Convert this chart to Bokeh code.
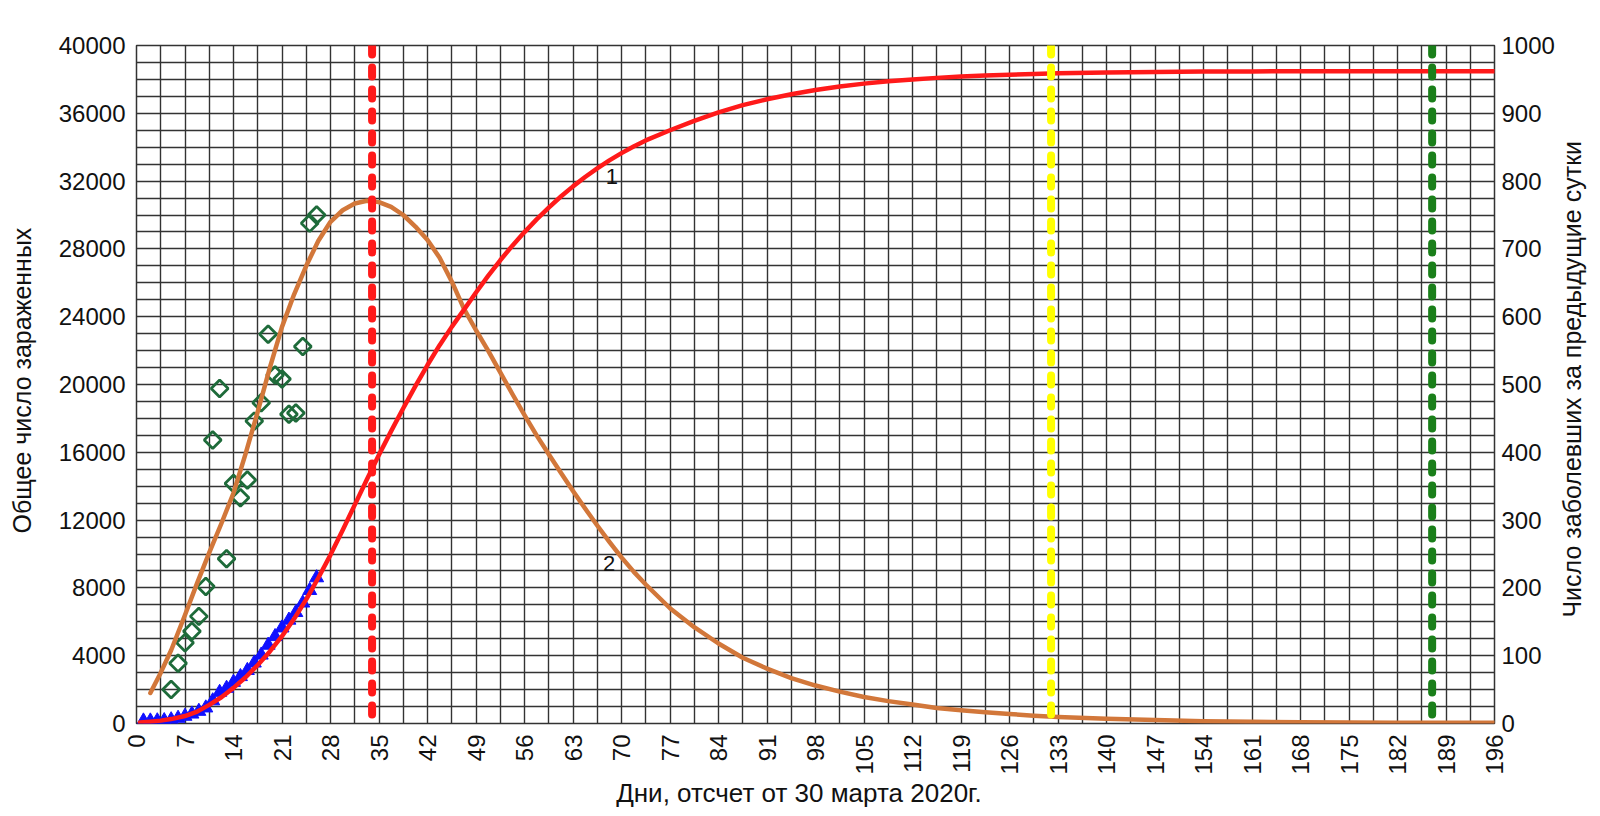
import math
import numpy as np
from bokeh.plotting import figure
from bokeh.layouts import row, column
from bokeh.models import Range1d, LinearAxis, FixedTicker, Span
from bokeh.embed import file_html
from bokeh.resources import INLINE
from bokeh.core.properties import value

FONT = "Liberation Sans"

# ---------------- data ----------------
x_tick_values = list(range(0, 197, 7))
left_tick_values = list(range(0, 40001, 4000))
right_tick_values = list(range(0, 1001, 100))

x_title = "Дни, отсчет от  30 марта 2020г."
left_title = "Общее число зараженных"
right_title = "Число заболевших за предыдущие сутки"

# curve 1: total infected (left axis)
curve1_days = [0.5, 2, 3.5, 5, 7, 8.75, 10.5, 12.25, 14, 15.75, 17.5, 19.25, 21, 22.75, 24.5,
               26.25, 28, 29.75, 31.5, 33.25, 35, 36.75, 38.5, 40.25, 42, 43.75, 45.5, 47.25,
               49, 50.75, 52.5, 54.25, 56, 57.75, 59.5, 61.25, 63, 64.75, 66.5, 68.25, 70,
               71.75, 73.5, 77, 80.5, 84, 87.5, 91, 94.5, 98, 101.5, 105, 108.5, 112, 115.5,
               119, 122.5, 126, 129.5, 133, 140, 147, 154, 161, 168, 175, 182, 189, 196]
curve1_vals = [60, 110, 170, 260, 440, 700, 1100, 1550, 2100, 2730, 3450, 4250, 5150, 6180, 7320,
               8600, 9950, 11400, 12900, 14400, 15850, 17250, 18600, 19900, 21150, 22320, 23400, 24400,
               25430, 26410, 27330, 28190, 28990, 29740, 30440, 31090, 31690, 32240, 32750, 33220, 33650,
               34040, 34400, 35000, 35550, 36050, 36480, 36830, 37120, 37370, 37580, 37750, 37890, 38000, 38090,
               38170, 38230, 38280, 38320, 38360, 38410, 38440, 38460, 38470, 38480, 38480, 38480, 38480, 38480]

# curve 2: new cases per day (right axis)
curve2_days = [2, 3.5, 5, 7, 8.75, 10.5, 12.25, 14, 15.75, 17.5, 19.25, 21, 22.75, 24.5, 26.25,
               28, 29.75, 31.5, 33.25, 35, 36.75, 38.5, 40.25, 42, 43.75, 45.5, 47.25, 49, 50.75,
               52.5, 54.25, 56, 57.75, 59.5, 61.25, 63, 64.75, 66.5, 68.25, 70, 71.75, 73.5, 77,
               80.5, 84, 87.5, 91, 94.5, 98, 101.5, 105, 108.5, 112, 115.5, 119, 122.5, 126, 129.5,
               133, 140, 147, 154, 161, 168, 175, 182, 189, 196]
curve2_vals = [45, 75, 108, 160, 207, 252, 295, 340, 398, 460, 525, 585, 633, 675, 712,
               740, 757, 767, 771, 769, 762, 750, 733, 713, 687, 652, 612, 580, 550,
               518, 486, 455, 425, 397, 370, 343, 317, 292, 268, 245, 224, 205, 170,
               142, 118, 97, 81, 67, 56, 47, 39, 33, 28, 23, 19.5, 16.5, 14, 11.5,
               9.5, 7, 5, 3.5, 2.5, 2, 1.5, 1, 1, 1]

# observed cumulative cases (left axis, blue triangles)
obs_total_days = list(range(1, 27))
obs_total_vals = [150, 150, 160, 170, 220, 310, 430, 560, 720, 920, 1340, 1840, 2080,
                  2430, 2770, 3130, 3570, 4040, 4620, 5130, 5640, 6100, 6550, 7110, 7850, 8600]

# observed new cases per day (right axis, green diamonds)
obs_daily_days = list(range(5, 27))
obs_daily_vals = [50, 89, 119, 136, 158, 202, 418, 494, 243, 354, 333, 359, 446, 473,
                  574, 514, 508, 456, 458, 556, 738, 750]

# marked days (vertical dashed lines)
marker_days = [34, 132, 187]
marker_colors = ["#ff1a1a", "#ffff00", "#1a7f1a"]

# curve labels
label_texts = ["1", "2"]
label_days = [68.6, 68.2]
label_vals = [32300, 9440]

# ---------------- layout sizes ----------------
LEFT_W, RIGHT_W, BOTTOM_H = 50, 43, 39
MAIN_W = 1600 - LEFT_W - RIGHT_W
MAIN_H = 816 - BOTTOM_H
FRAME_L, FRAME_R, FRAME_T, FRAME_B = 136, 1496, 45, 723
TEXT_SHIFT = 10  # renderer places the alphabetic baseline this far "below" the anchor


def strip(width, height):
    f = figure(width=width, height=height, x_range=Range1d(0, width), y_range=Range1d(0, height),
               x_axis_type=None, y_axis_type=None, output_backend="svg", toolbar_location=None,
               min_border=0, background_fill_color="white", border_fill_color="white")
    f.outline_line_color = None
    f.xgrid.visible = False
    f.ygrid.visible = False
    return f


# ---------------- main figure ----------------
p = figure(width=MAIN_W, height=MAIN_H, x_range=Range1d(0, 196), y_range=Range1d(0, 40000),
           output_backend="svg", toolbar_location=None,
           min_border_left=FRAME_L - LEFT_W, min_border_right=(LEFT_W + MAIN_W) - FRAME_R,
           min_border_top=FRAME_T, min_border_bottom=MAIN_H - FRAME_B,
           background_fill_color="white", border_fill_color="white")
p.extra_y_ranges = {"right": Range1d(0, 1000)}
p.outline_line_color = "#333333"
p.outline_line_width = 1.5

p.xgrid.ticker = FixedTicker(ticks=list(np.arange(0, 196.01, 3.5)))
p.ygrid.ticker = FixedTicker(ticks=list(range(0, 40001, 1000)))
for g in (p.xgrid, p.ygrid):
    g.grid_line_color = "#333333"
    g.grid_line_width = 1.4
    g.grid_line_alpha = 1.0

xa = p.xaxis[0]
xa.ticker = FixedTicker(ticks=x_tick_values)
xa.major_label_orientation = math.pi / 2

ya = p.yaxis[0]
ya.ticker = FixedTicker(ticks=left_tick_values)

ra = LinearAxis(y_range_name="right", ticker=FixedTicker(ticks=right_tick_values))
p.add_layout(ra, "right")

for ax in (xa, ya, ra):
    ax.axis_line_color = None
    ax.major_tick_line_color = None
    ax.minor_tick_line_color = None
    ax.major_tick_out = 0
    ax.major_tick_in = 0
    ax.minor_tick_out = 0
    ax.minor_tick_in = 0
    ax.major_label_text_font = FONT
    ax.major_label_text_font_size = "24px"
    ax.major_label_text_color = "#111111"

ya.major_label_standoff = 11
ra.major_label_standoff = 7
xa.major_label_standoff = 11

# observed data
p.scatter(obs_daily_days, obs_daily_vals, y_range_name="right", marker="square",
          angle=math.pi / 4, size=12, fill_color=None, line_color="#1e6b3a", line_width=2.8)
p.scatter(obs_total_days, obs_total_vals, marker="triangle", size=14,
          fill_color="#1010ff", line_color="#1010ff")

# model curves
p.line(curve2_days, curve2_vals, y_range_name="right", line_color="#d2773a", line_width=4.5,
       line_join="round", line_cap="round")
p.line(curve1_days, curve1_vals, line_color="#ff1a1a", line_width=4.5,
       line_join="round", line_cap="round")

# marked days
for d, c in zip(marker_days, marker_colors):
    p.add_layout(Span(location=d, dimension="height", line_color=c, line_width=8,
                      line_dash="9 13", line_cap="round"))

# curve labels
p.text(x=label_days, y=label_vals, text=label_texts, text_font=value(FONT),
       text_font_size="22px", text_color="#111111", text_align="center",
       text_baseline="middle")

# ---------------- title strips ----------------
left_strip = strip(LEFT_W, MAIN_H)
left_strip.text(x=[31 - TEXT_SHIFT], y=[MAIN_H - 384], text=[left_title], angle=math.pi / 2,
                text_font=value(FONT), text_font_size="25px", text_color="#111111",
                text_align="center", text_baseline="alphabetic")

right_strip = strip(RIGHT_W, MAIN_H)
right_strip.text(x=[1581 - (1600 - RIGHT_W) - TEXT_SHIFT], y=[MAIN_H - 382.5], text=[right_title],
                 angle=math.pi / 2, text_font=value(FONT), text_font_size="25px",
                 text_color="#111111", text_align="center", text_baseline="alphabetic")

bottom_strip = strip(1600, BOTTOM_H)
bottom_strip.text(x=[802], y=[24], text=[x_title],
                  text_font=value(FONT), text_font_size="26px", text_color="#111111",
                  text_align="center", text_baseline="alphabetic")

layout = column(row(left_strip, p, right_strip, spacing=0), bottom_strip, spacing=0)

open("out.html", "w").write(file_html(layout, INLINE))
